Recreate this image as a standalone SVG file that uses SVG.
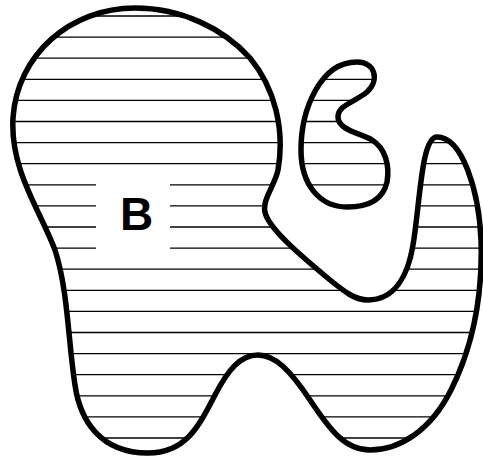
<svg xmlns="http://www.w3.org/2000/svg" width="483" height="459" viewBox="0 0 483 459">
<style>
.outline{fill:none;stroke:#000;stroke-width:5.5;stroke-linejoin:round}
.hatch line{stroke:#000;stroke-width:1.3}
.lbl{font-family:"Liberation Sans",Arial,sans-serif;font-weight:bold;font-size:46px;fill:#000}
</style>
<defs>
<path id="big" d="M 135,8 C 182,8 224,29 250,58 C 275,88 285,130 278,170 C 275,185 262,200 265,212 C 268,228 300,255 330,280 C 345,292 355,300 368,300 C 395,300 408,275 413,245 C 420,205 421,137 437,137 C 462,137 479,190 481,240 C 483,300 471,350 451,390 C 431,430 400,450 370,450 C 345,450 330,430 310,400 C 290,370 275,355 258,355 C 240,355 228,370 215,395 C 198,428 185,453 148,453 C 100,453 80,420 75,385 C 68,340 68,290 55,250 C 40,210 10,170 13,118 C 17,55 70,8 135,8 Z"/>
<path id="loop" d="M 357,62 C 375,62 380,80 367,92 C 355,102 338,105 338,117 C 338,130 360,133 372,140 C 385,148 390,165 387,182 C 383,200 368,207 347,207 C 320,207 301,185 301,150 C 301,110 320,62 357,62 Z"/>
<clipPath id="region"><use href="#big"/><use href="#loop"/></clipPath>
</defs>
<g id="hatching" class="hatch" clip-path="url(#region)">
<line x1="0" y1="16" x2="483" y2="16"/>
<line x1="0" y1="37.1" x2="483" y2="37.1"/>
<line x1="0" y1="58.2" x2="483" y2="58.2"/>
<line x1="0" y1="79.3" x2="483" y2="79.3"/>
<line x1="0" y1="100.4" x2="483" y2="100.4"/>
<line x1="0" y1="121.5" x2="483" y2="121.5"/>
<line x1="0" y1="142.6" x2="483" y2="142.6"/>
<line x1="0" y1="163.7" x2="483" y2="163.7"/>
<line x1="0" y1="184.8" x2="483" y2="184.8"/>
<line x1="0" y1="205.9" x2="483" y2="205.9"/>
<line x1="0" y1="227" x2="483" y2="227"/>
<line x1="0" y1="248.1" x2="483" y2="248.1"/>
<line x1="0" y1="269.2" x2="483" y2="269.2"/>
<line x1="0" y1="290.3" x2="483" y2="290.3"/>
<line x1="0" y1="311.4" x2="483" y2="311.4"/>
<line x1="0" y1="332.5" x2="483" y2="332.5"/>
<line x1="0" y1="353.6" x2="483" y2="353.6"/>
<line x1="0" y1="374.7" x2="483" y2="374.7"/>
<line x1="0" y1="395.8" x2="483" y2="395.8"/>
<line x1="0" y1="416.9" x2="483" y2="416.9"/>
<line x1="0" y1="438" x2="483" y2="438"/>
</g>
<g id="region-B">
<use href="#big" class="outline"/>
<rect x="96" y="172" width="74" height="86" fill="#fff"/>
<text class="lbl" x="136.5" y="229.5" text-anchor="middle">B</text>
</g>
<g id="loop-shape">
<use href="#loop" class="outline"/>
</g>
</svg>
